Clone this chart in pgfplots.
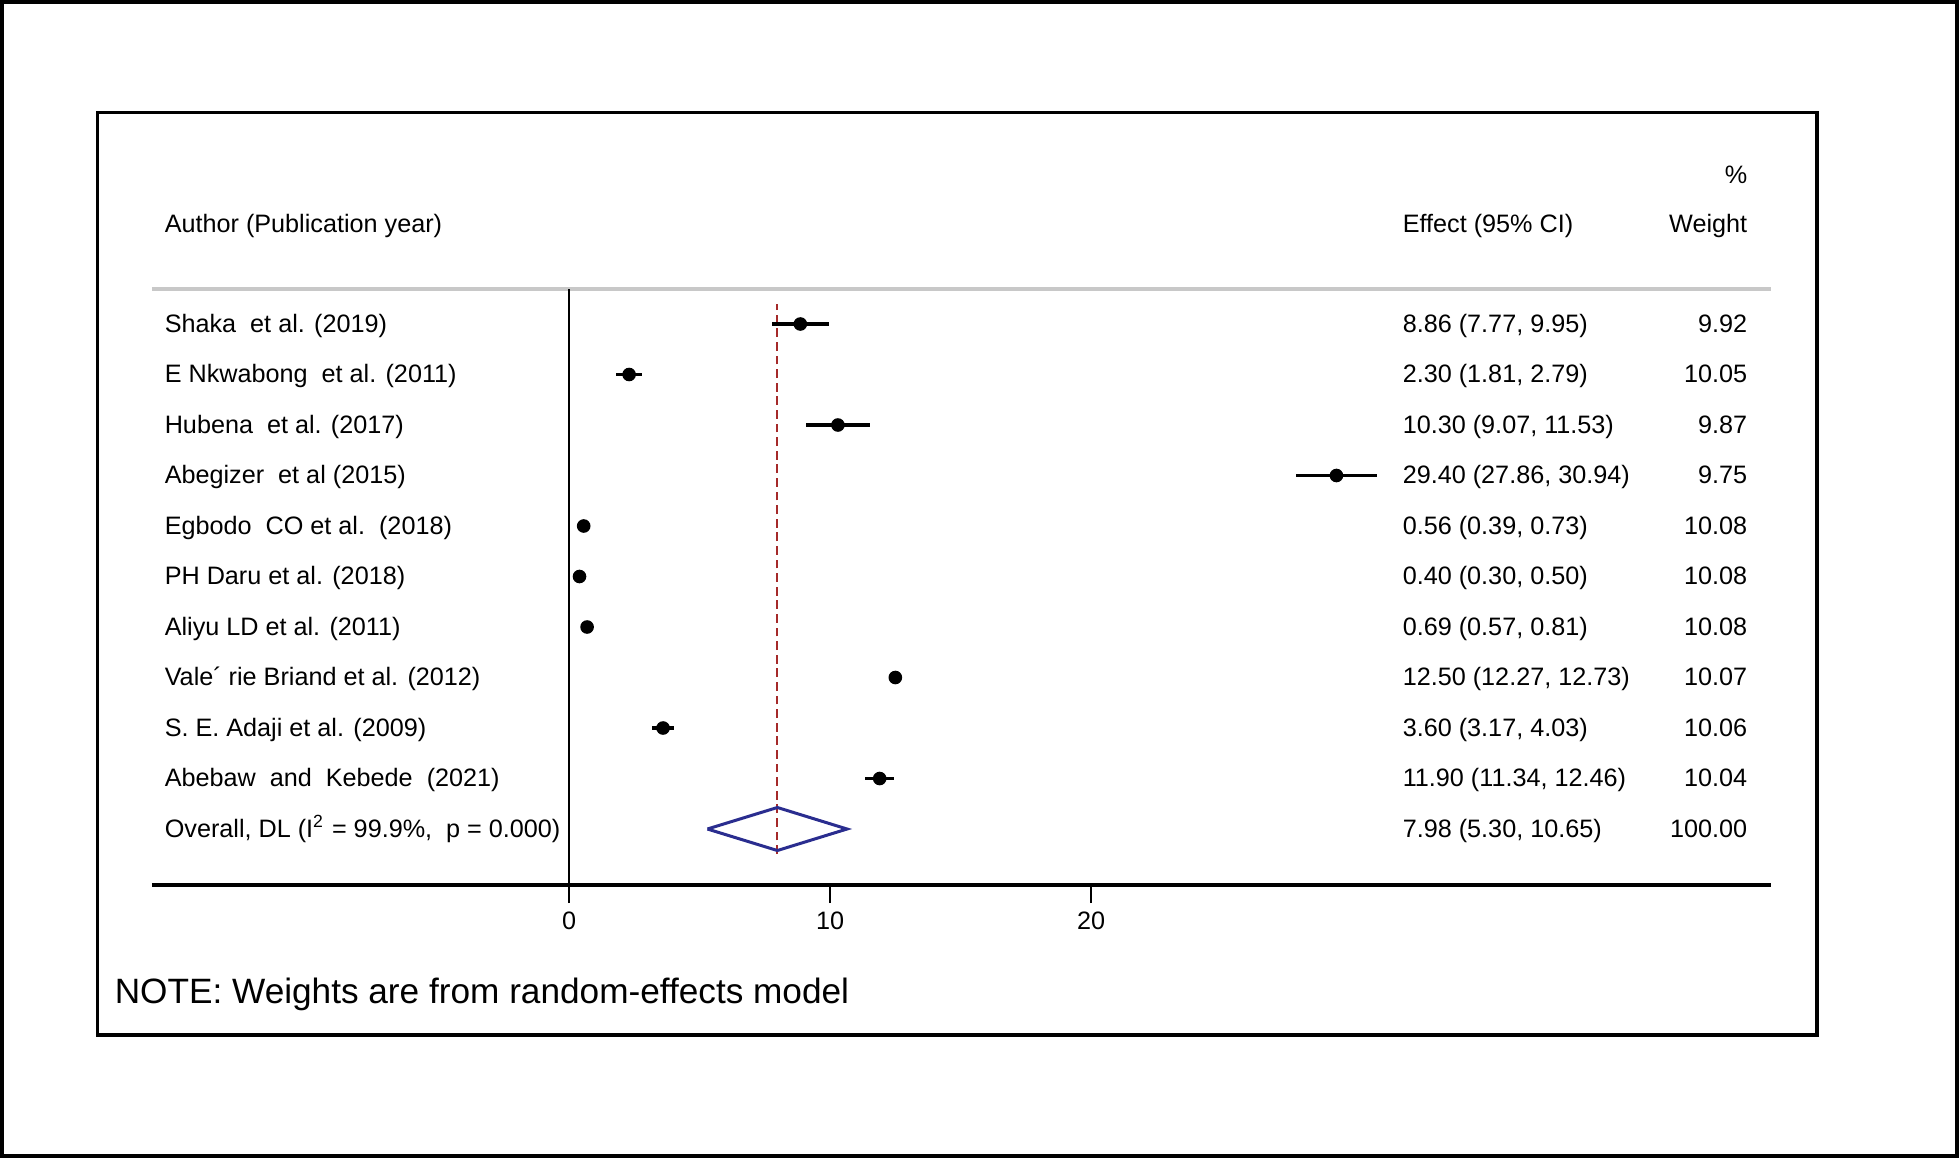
\documentclass[border=0pt]{standalone}
\usepackage{fontspec}
\setmainfont{Liberation Sans}
\usepackage{pgfplots}
\pgfplotsset{compat=1.18}
\definecolor{refRed}{HTML}{A52A2A}
\definecolor{diaBlue}{HTML}{2A2D8F}
\definecolor{hdrGray}{HTML}{C8C8C8}
\tikzset{lbl/.style={inner sep=0pt, text height=1.6ex, text depth=0.45ex, yshift=0.95pt, font=\fontsize{6.3}{7}\selectfont}}

\begin{document}
\begin{tikzpicture}
\begin{axis}[
  scale only axis, width=404.75pt, height=149pt,
  xmin=-15.98, xmax=46.05, ymin=-0.109, ymax=11.693,
  axis x line=bottom, axis y line=none,
  axis line style={-, line width=1.1pt, black},
  xtick={0,10,20}, tick align=outside, major tick length=4.5pt,
  tick style={black, line width=0.5pt},
  xticklabel style={font=\fontsize{6.3}{7}\selectfont, yshift=1.2pt},
  /pgf/number format/assume math mode=true,
  clip=false,
]
% header rule and zero line
\draw[hdrGray, line width=1pt] (rel axis cs:0,1) -- (rel axis cs:1,1);
\addplot[black, line width=0.6pt] coordinates {(0,-0.109) (0,11.693)};
% overall effect line
\addplot[refRed, line width=0.5pt, dash pattern=on 2.2pt off 1.2pt] coordinates {(7.98,0.505) (7.98,11.396)};
% studies
\addplot[only marks, mark=*, mark size=1.5pt, black,
  error bars/.cd, x dir=both, x explicit,
  error bar style={line width=0.85pt, black}, error mark=none]
  coordinates {
  (8.86,11)  +- (1.09,0)
  (2.30,10)  +- (0.49,0)
  (10.30,9)  +- (1.23,0)
  (29.40,8)  +- (1.54,0)
  (0.56,7)   +- (0.17,0)
  (0.40,6)   +- (0.10,0)
  (0.69,5)   +- (0.12,0)
  (12.50,4)  +- (0.23,0)
  (3.60,3)   +- (0.43,0)
  (11.90,2)  +- (0.56,0)
  };
% pooled diamond
\addplot[diaBlue, line width=0.75pt] coordinates {(5.30,1) (7.98,1.426) (10.65,1) (7.98,0.574) (5.30,1)};
\end{axis}

\begin{scope}[shift={(-38pt,221.25pt)}, x=0.25pt, y=-0.25pt]
\useasboundingbox (0,0) rectangle (1960,1159);
\draw[line width=0.9pt] (2,2) rectangle (1957,1156);
\draw[line width=0.8pt] (97.5,112.5) rectangle (1817,1035);
\node[lbl, anchor=east] at (1748,175) {\%};
\node[lbl, anchor=west] at (164,224) {Author (Publication year)};
\node[lbl, anchor=west] at (1402,224) {Effect (95\% CI)};
\node[lbl, anchor=east] at (1748,224) {Weight};
\foreach \py/\lab/\eff/\w in {
  324/{Shaka\ \ et al. (2019)}/{8.86 (7.77, 9.95)}/9.92,
  374.5/{E Nkwabong\ \ et al. (2011)}/{2.30 (1.81, 2.79)}/10.05,
  425/{Hubena\ \ et al. (2017)}/{10.30 (9.07, 11.53)}/9.87,
  475.5/{Abegizer\ \ et al (2015)}/{29.40 (27.86, 30.94)}/9.75,
  526/{Egbodo\ \ CO et al.\ \ (2018)}/{0.56 (0.39, 0.73)}/10.08,
  576.5/{PH Daru et al. (2018)}/{0.40 (0.30, 0.50)}/10.08,
  627/{Aliyu LD et al. (2011)}/{0.69 (0.57, 0.81)}/10.08,
  677.5/{Vale´ rie Briand et al. (2012)}/{12.50 (12.27, 12.73)}/10.07,
  728/{S. E. Adaji et al. (2009)}/{3.60 (3.17, 4.03)}/10.06,
  778.5/{Abebaw\ \ and\ \ Kebede\ \ (2021)}/{11.90 (11.34, 12.46)}/10.04,
  829/{Overall, DL (I\textsuperscript{2} = 99.9\%,\ \ p = 0.000)}/{7.98 (5.30, 10.65)}/100.00}{
  \node[lbl, anchor=west] at (164,\py) {\lab};
  \node[lbl, anchor=west] at (1402,\py) {\eff};
  \node[lbl, anchor=east] at (1748,\py) {\w};
}
\node[inner sep=0pt, anchor=west, font=\fontsize{8.8}{10}\selectfont] at (114,994) {NOTE: Weights are from random-effects model};
\end{scope}
\end{tikzpicture}
\end{document}
